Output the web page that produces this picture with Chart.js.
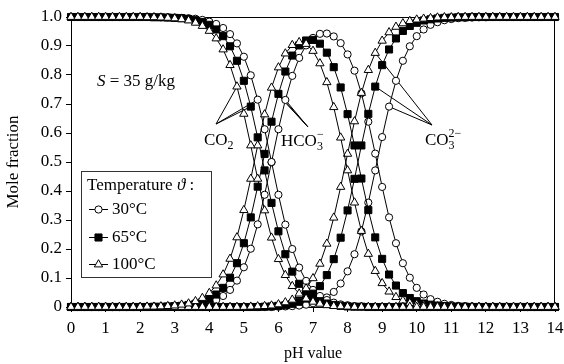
<!DOCTYPE html>
<html><head><meta charset="utf-8">
<script src="https://cdn.jsdelivr.net/npm/chart.js@4"></script>
<style>html,body{margin:0;padding:0;background:#fff}</style>
</head><body>
<canvas id="c" width="564" height="364"></canvas>
<script>
const pH = [0,0.2,0.4,0.6,0.8,1,1.2,1.4,1.6,1.8,
2,2.2,2.4,2.6,2.8,3,3.2,3.4,3.6,3.8,
4,4.2,4.4,4.6,4.8,5,5.2,5.4,5.6,5.8,
6,6.2,6.4,6.6,6.8,7,7.2,7.4,7.6,7.8,
8,8.2,8.4,8.6,8.8,9,9.2,9.4,9.6,9.8,
10,10.2,10.4,10.6,10.8,11,11.2,11.4,11.6,11.8,
12,12.2,12.4,12.6,12.8,13,13.2,13.4,13.6,13.8,
14];

// 30 °C
const co2_30 = [1,1,1,1,1,1,1,1,1,1,
1,1,1,0.999,0.999,0.998,0.997,0.996,0.994,0.990,
0.984,0.976,0.962,0.941,0.909,0.863,0.799,0.715,0.613,0.500,
0.387,0.284,0.200,0.136,0.090,0.059,0.038,0.024,0.015,0.009,
0.006,0.003,0.002,0.001,0,0,0,0,0,0,
0,0,0,0,0,0,0,0,0,0,
0,0,0,0,0,0,0,0,0,0,
0];
const hco3_30 = [0,0,0,0,0,0,0,0,0,0,
0,0,0,0.001,0.001,0.002,0.003,0.004,0.006,0.010,
0.016,0.024,0.038,0.059,0.091,0.137,0.201,0.285,0.387,0.499,
0.613,0.714,0.797,0.859,0.902,0.928,0.942,0.943,0.933,0.910,
0.871,0.815,0.737,0.639,0.529,0.414,0.309,0.220,0.151,0.101,
0.066,0.043,0.027,0.018,0.011,0.007,0.004,0.003,0.002,0.001,
0.001,0,0,0,0,0,0,0,0,0,
0];
const co3_30 = [0,0,0,0,0,0,0,0,0,0,
0,0,0,0,0,0,0,0,0,0,
0,0,0,0,0,0,0,0,0,0,
0.001,0.002,0.003,0.005,0.008,0.013,0.021,0.033,0.052,0.081,
0.123,0.182,0.261,0.360,0.471,0.586,0.691,0.780,0.849,0.899,
0.934,0.957,0.973,0.982,0.989,0.993,0.996,0.997,0.998,0.999,
0.999,1,1,1,1,1,1,1,1,1,
1];

// 65 °C
const co2_65 = [1,1,1,1,1,1,1,1,1,1,
1,1,0.999,0.999,0.998,0.997,0.996,0.993,0.989,0.983,
0.973,0.957,0.934,0.899,0.849,0.780,0.691,0.585,0.471,0.359,
0.261,0.182,0.122,0.080,0.052,0.033,0.020,0.012,0.007,0.004,
0.002,0.001,0.001,0,0,0,0,0,0,0,
0,0,0,0,0,0,0,0,0,0,
0,0,0,0,0,0,0,0,0,0,
0];
const hco3_65 = [0,0,0,0,0,0,0,0,0,0,
0,0,0.001,0.001,0.002,0.003,0.004,0.007,0.011,0.017,
0.027,0.043,0.066,0.101,0.151,0.220,0.309,0.415,0.528,0.639,
0.735,0.812,0.867,0.902,0.919,0.921,0.908,0.877,0.827,0.757,
0.665,0.557,0.443,0.334,0.240,0.166,0.112,0.074,0.048,0.031,
0.020,0.012,0.008,0.005,0.003,0.002,0.001,0.001,0,0,
0,0,0,0,0,0,0,0,0,0,
0];
const co3_65 = [0,0,0,0,0,0,0,0,0,0,
0,0,0,0,0,0,0,0,0,0,
0,0,0,0,0,0,0,0,0.001,0.002,
0.004,0.006,0.011,0.018,0.029,0.046,0.072,0.110,0.165,0.239,
0.333,0.442,0.557,0.666,0.760,0.834,0.888,0.926,0.952,0.969,
0.980,0.988,0.992,0.995,0.997,0.998,0.999,0.999,1,1,
1,1,1,1,1,1,1,1,1,1,
1];

// 100 °C
const co2_100 = [1,1,1,1,1,1,1,1,1,1,
1,0.999,0.999,0.998,0.997,0.995,0.992,0.988,0.980,0.969,
0.952,0.926,0.888,0.834,0.760,0.666,0.557,0.442,0.333,0.239,
0.165,0.110,0.072,0.046,0.029,0.018,0.011,0.006,0.003,0.002,
0.001,0,0,0,0,0,0,0,0,0,
0,0,0,0,0,0,0,0,0,0,
0,0,0,0,0,0,0,0,0,0,
0];
const hco3_100 = [0,0,0,0,0,0,0,0,0,0,
0,0.001,0.001,0.002,0.003,0.005,0.008,0.012,0.020,0.031,
0.048,0.074,0.112,0.166,0.240,0.334,0.442,0.557,0.664,0.756,
0.826,0.874,0.903,0.913,0.907,0.883,0.840,0.775,0.689,0.584,
0.471,0.360,0.262,0.183,0.124,0.082,0.053,0.034,0.022,0.014,
0.009,0.006,0.004,0.002,0.001,0.001,0,0,0,0,
0,0,0,0,0,0,0,0,0,0,
0];
const co3_100 = [0,0,0,0,0,0,0,0,0,0,
0,0,0,0,0,0,0,0,0,0,
0,0,0,0,0,0,0.001,0.002,0.003,0.005,
0.009,0.016,0.025,0.041,0.064,0.099,0.149,0.218,0.308,0.414,
0.528,0.640,0.738,0.817,0.876,0.918,0.947,0.966,0.978,0.986,
0.991,0.994,0.996,0.998,0.999,0.999,1,1,1,1,
1,1,1,1,1,1,1,1,1,1,
1];

const xTicks = [0,1,2,3,4,5,6,7,8,9,10,11,12,13,14];
const yTicks = [0,0.1,0.2,0.3,0.4,0.5,0.6,0.7,0.8,0.9,1.0];
const yTickLabels = ['0','0.1','0.2','0.3','0.4','0.5','0.6','0.7','0.8','0.9','1.0'];
const legendLabels = ['30°C','65°C','100°C'];
const legendTitle = 'Temperature ';

const SERIF = '"Liberation Serif", "DejaVu Serif", serif';

const styles = {
  t30: {pointStyle:'circle', pointRadius:3.6, bg:'#fff', order:3},
  t65: {pointStyle:'rect', pointRadius:5, bg:'#000', order:2},
  t100:{pointStyle:'triangle', pointRadius:4.8, bg:'#fff', order:1}
};

function ds(arr, st){
  return {
    data: pH.map((x,i)=>({x:x, y:arr[i]})),
    showLine:true, borderColor:'#000', borderWidth:1, tension:0,
    pointStyle:st.pointStyle, pointRadius:st.pointRadius,
    pointBackgroundColor:st.bg, pointBorderColor:'#000', pointBorderWidth:1,
    order:st.order, clip:false, fill:false
  };
}

const leaders = [
  {from:[216,124], to:[[co2_100,24],[co2_30,27],[co2_65,26]]},
  {from:[308,127], to:[[hco3_30,31],[hco3_65,30],[hco3_100,29]]},
  {from:[432,125], to:[[co3_100,44],[co3_65,44],[co3_30,46]]}
];

function marker(ctx, style, x, y){
  ctx.save();
  ctx.lineWidth = 1; ctx.strokeStyle = '#000';
  ctx.beginPath();
  if (style === 'circle') { ctx.arc(x, y, 3.6, 0, Math.PI*2); ctx.fillStyle='#fff'; }
  else if (style === 'rect') { const s = 5*Math.SQRT1_2; ctx.rect(x-s, y-s, 2*s, 2*s); ctx.fillStyle='#000'; }
  else { const r = 4.8; ctx.moveTo(x, y-r); ctx.lineTo(x + r*Math.sin(2*Math.PI/3), y - r*Math.cos(2*Math.PI/3)); ctx.lineTo(x + r*Math.sin(4*Math.PI/3), y - r*Math.cos(4*Math.PI/3)); ctx.closePath(); ctx.fillStyle='#fff'; }
  ctx.fill(); ctx.stroke();
  ctx.restore();
}

function chem(ctx, x, y, base, sub, sup){
  ctx.font = '17px ' + SERIF;
  ctx.fillText(base, x, y);
  const w = ctx.measureText(base).width;
  ctx.font = '12px ' + SERIF;
  if (sub) ctx.fillText(sub, x + w, y + 4);
  if (sup) ctx.fillText(sup, x + w, y - 8);
}

const deco = {
  id:'deco',
  beforeDatasetsDraw(chart){
    const ctx = chart.ctx, a = chart.chartArea, xs = chart.scales.x, ys = chart.scales.y;
    ctx.save();
    ctx.strokeStyle = '#000'; ctx.lineWidth = 1;
    ctx.beginPath();
    ctx.moveTo(a.left, a.top + 0.5); ctx.lineTo(a.right, a.top + 0.5);
    ctx.moveTo(a.right - 0.5, a.top); ctx.lineTo(a.right - 0.5, a.bottom);
    ctx.stroke();
    ctx.beginPath();
    leaders.forEach(L => {
      L.to.forEach(([arr, i]) => {
        ctx.moveTo(L.from[0], L.from[1]);
        ctx.lineTo(xs.getPixelForValue(pH[i]), ys.getPixelForValue(arr[i]));
      });
    });
    ctx.stroke();
    ctx.restore();
  },
  afterDraw(chart){
    const ctx = chart.ctx;
    ctx.save();
    ctx.fillStyle = '#000';
    ctx.textBaseline = 'alphabetic';
    ctx.textAlign = 'left';
    // S = 35 g/kg
    ctx.font = 'italic 17px ' + SERIF;
    ctx.fillText('S', 97, 86);
    let w = ctx.measureText('S').width;
    ctx.font = '17px ' + SERIF;
    ctx.fillText(' = 35 g/kg', 97 + w, 86);
    // species labels
    chem(ctx, 204, 145, 'CO', '2', null);
    chem(ctx, 281, 146, 'HCO', '3', '\u2212');
    chem(ctx, 425, 145, 'CO', '3', '2\u2212');
    // legend
    ctx.fillStyle = '#fff';
    ctx.fillRect(81.5, 171.5, 130, 106);
    ctx.strokeStyle = '#333'; ctx.lineWidth = 1;
    ctx.strokeRect(81.5, 171.5, 130, 106);
    ctx.fillStyle = '#000';
    ctx.font = '17px ' + SERIF;
    ctx.textBaseline = 'middle';
    ctx.fillText(legendTitle, 87, 186);
    w = ctx.measureText(legendTitle).width;
    ctx.font = 'italic 17px ' + SERIF;
    ctx.fillText('\u03D1', 87 + w, 186);
    const w2 = ctx.measureText('\u03D1').width;
    ctx.font = '17px ' + SERIF;
    ctx.fillText(' :', 87 + w + w2, 186);
    const ys = [209, 237, 264];
    const st = ['circle','rect','triangle'];
    for (let k = 0; k < 3; k++) {
      ctx.beginPath(); ctx.strokeStyle = '#000';
      ctx.moveTo(89, ys[k] + 0.5); ctx.lineTo(108, ys[k] + 0.5); ctx.stroke();
      marker(ctx, st[k], 98.5, ys[k] + 0.5);
      ctx.fillStyle = '#000';
      ctx.font = '17px ' + SERIF;
      ctx.fillText(legendLabels[k], 112, ys[k] + 1);
    }
    ctx.restore();
  }
};

new Chart(document.getElementById('c'), {
  type:'scatter',
  data:{ datasets:[
    ds(co2_30, styles.t30), ds(hco3_30, styles.t30), ds(co3_30, styles.t30),
    ds(co2_65, styles.t65), ds(hco3_65, styles.t65), ds(co3_65, styles.t65),
    ds(co2_100, styles.t100), ds(hco3_100, styles.t100), ds(co3_100, styles.t100)
  ]},
  options:{
    responsive:false, animation:false, events:[],
    layout:{padding:{left:0, right:9, top:17, bottom:0}},
    plugins:{legend:{display:false}, tooltip:{enabled:false}},
    scales:{
      x:{
        type:'linear', min:0, max:14,
        afterBuildTicks(s){ s.ticks = xTicks.map(v=>({value:v})); },
        afterFit(s){ s.height = 57; s.paddingRight = 0; s.paddingLeft = 0; },
        grid:{drawOnChartArea:false, drawTicks:true, tickLength:5, color:'#000'},
        border:{display:true, color:'#000', width:1},
        ticks:{color:'#000', font:{family:SERIF, size:17}, padding:6, maxRotation:0, autoSkip:false},
        title:{display:true, text:'pH value', color:'#000', font:{family:SERIF, size:16}, padding:{top:0, bottom:1}}
      },
      y:{
        type:'linear', min:0, max:1,
        afterBuildTicks(s){ s.ticks = yTicks.map(v=>({value:v})); },
        afterFit(s){ s.width = 71; s.paddingTop = 0; s.paddingBottom = 0; },
        grid:{drawOnChartArea:false, drawTicks:true, tickLength:5, color:'#000'},
        border:{display:true, color:'#000', width:1},
        ticks:{color:'#000', font:{family:SERIF, size:17}, padding:4, autoSkip:false,
          callback(v){ const i = yTicks.findIndex(t => Math.abs(t - v) < 1e-6); return i >= 0 ? yTickLabels[i] : ''; }},
        title:{display:true, text:'Mole fraction', color:'#000', font:{family:SERIF, size:17}, padding:{top:3, bottom:3}}
      }
    }
  },
  plugins:[deco]
});
</script>
</body></html>
